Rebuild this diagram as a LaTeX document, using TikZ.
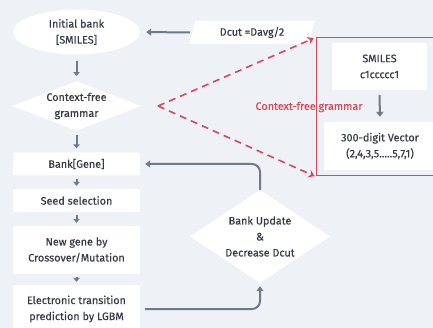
\documentclass[tikz,border=0pt]{standalone}
\usepackage{fontspec}
\setmainfont{Fira Sans}[UprightFeatures={FakeBold=0.35}]
\usetikzlibrary{shapes.geometric,arrows.meta}
\definecolor{bg}{HTML}{EEF1F5}
\definecolor{conn}{HTML}{6C7A89}
\definecolor{redc}{HTML}{D9475B}
\definecolor{txt}{HTML}{363B47}
\tikzset{
  every node/.style={font=\fontsize{10.8}{16}\selectfont, text=txt, align=center, inner sep=0pt},
  box/.style={rectangle, fill=white, rounded corners=2pt, minimum width=127pt},
  diam/.style={diamond, fill=white, aspect=2.6},
  gline/.style={draw=conn, line width=2pt, -{Triangle[width=7pt,length=5pt]}},
  small/.style={draw=conn, line width=2pt, -{Triangle[width=6.5pt,length=4pt]}},
  rline/.style={draw=redc, line width=1.6pt, dash pattern=on 7pt off 5pt, -{Stealth[width=8pt,length=6pt]}},
}
\begin{document}
\begin{tikzpicture}[x=1pt,y=-1pt]
\fill[bg] (0,0) rectangle (433,328);
\useasboundingbox (0,0) rectangle (433,328);
\clip (0,0) rectangle (433,328);
% left column
\node[ellipse, fill=white, minimum width=127pt, minimum height=45pt] (init) at (76.5,32) {Initial bank\\{[SMILES]}};
\node[diam, minimum width=125pt, minimum height=47pt] (cfg) at (76.5,106) {Context-free\\grammar};
\node[box, minimum height=23pt] (gene) at (76.5,164) {Bank[Gene]};
\node[box, minimum height=23pt] (seed) at (76.5,200.5) {Seed selection};
\node[box, minimum height=48pt] (newg) at (76.5,250) {New gene by\\Crossover/Mutation};
\node[box, minimum height=48pt] (elec) at (76.5,309) {Electronic transition\\prediction by LGBM};
% small arrows
\draw[small, shorten <=6pt, shorten >=5pt] (init.south) -- (cfg.north);
\draw[small, shorten <=4pt, shorten >=4pt] (cfg.south) -- (gene.north);
\draw[small, shorten <=3pt, shorten >=3pt] (gene.south) -- (seed.north);
\draw[small, shorten <=3pt, shorten >=3pt] (seed.south) -- (newg.north);
\draw[small, shorten <=3pt, shorten >=3pt] (newg.south) -- (elec.north);
% Dcut
\node[trapezium, trapezium left angle=73, trapezium right angle=107, trapezium stretches=true, fill=white, minimum width=126pt, minimum height=23pt] (dcut) at (252,32.5) {Dcut =Davg/2};
\draw[gline, shorten <=2pt, shorten >=6pt] (dcut.west) -- (init.east);
% bank update diamond
\node[diam, aspect=1.5, minimum width=140pt, minimum height=93pt] (upd) at (260,236.5) {Bank Update\\\&\\Decrease Dcut};
\draw[gline, rounded corners=8pt, shorten <=5pt, shorten >=3pt] (elec.east) -| (upd.south);
\draw[gline, rounded corners=8pt, shorten >=5pt] (upd.north) |- (gene.east);
% red box
\node[draw=redc, line width=1pt, rectangle, minimum width=130pt, minimum height=138pt] (rbox) at (381,107) {};
\node[box, minimum width=95pt, minimum height=47pt] (smi) at (379.5,66.5) {SMILES\\c1ccccc1};
\node[box, minimum width=112pt, minimum height=48pt] (vec) at (380,146) {300-digit Vector\\(2,4,3,5.....5,7,1)};
\draw[gline, shorten <=5pt, shorten >=5pt] (smi.south) -- (vec.north);
\coordinate (apex) at (158,106);
\draw[rline, shorten >=2pt] (apex) -- (rbox.north west);
\draw[rline, shorten >=1pt] (apex) -- (rbox.south west);
\node[text=redc] (cfl) at (309,107) {Context-free grammar};
\end{tikzpicture}
\end{document}
